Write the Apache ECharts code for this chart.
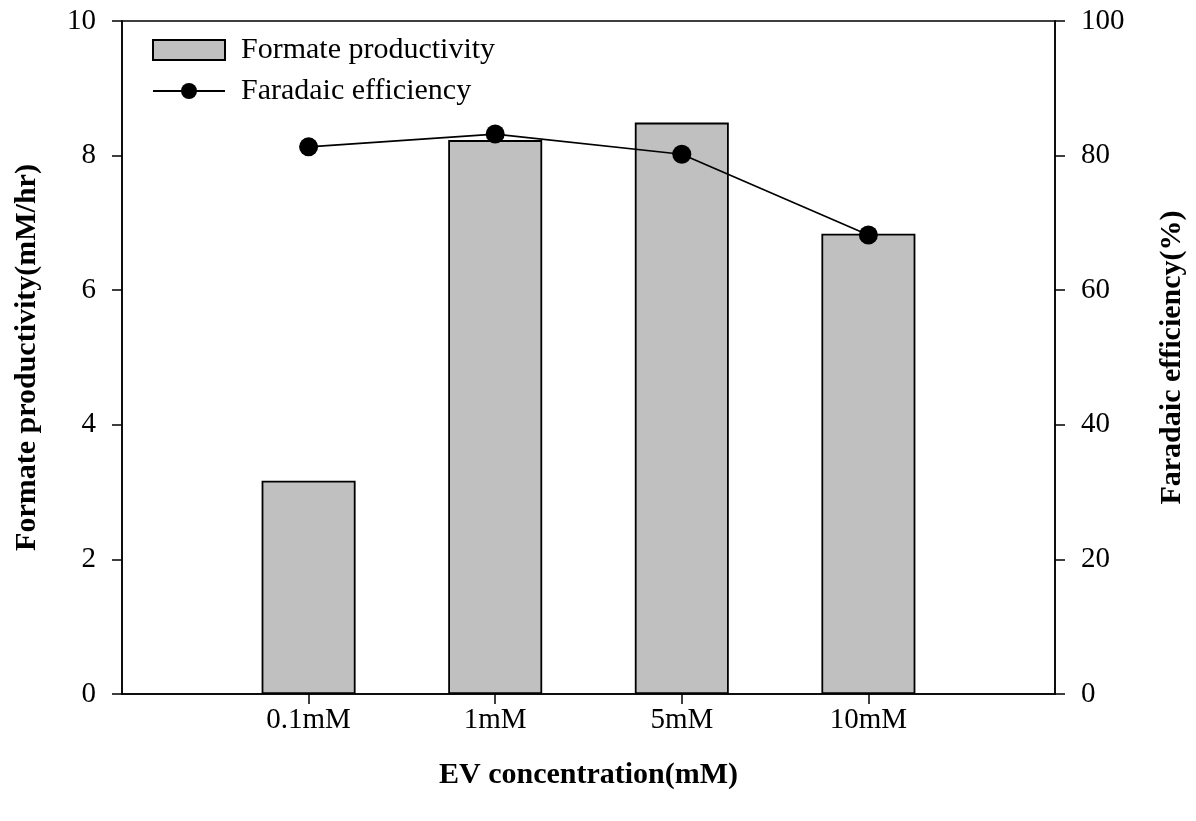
<!DOCTYPE html>
<html>
<head>
<meta charset="utf-8">
<script src="https://cdn.jsdelivr.net/npm/echarts@6/dist/echarts.min.js"></script>
<style>
  html, body { margin: 0; padding: 0; background: #fff; }
  #chart { width: 1196px; height: 821px; }
</style>
</head>
<body>
<div id="chart"></div>
<script>
  // EV concentration categories (blank slots pad both ends of the axis)
  var categories = ['0.1mM', '1mM', '5mM', '10mM'];
  var productivity = [3.17, 8.23, 8.49, 6.84];   // mM/hr
  var efficiency = [81.3, 83.2, 80.2, 68.2];     // %
  var leftTicks = [0, 2, 4, 6, 8, 10];
  var rightTicks = [0, 20, 40, 60, 80, 100];

  var font = 'Liberation Serif';
  function pad(arr, blank) { return [blank].concat(arr, [blank]); }

  var chart = echarts.init(document.getElementById('chart'));
  chart.setOption({
    backgroundColor: '#fff',
    animation: false,
    grid: {
      left: 122, right: 141, top: 21, bottom: 127,
      containLabel: false, outerBoundsMode: 'none',
      show: true, borderColor: '#000', borderWidth: 1.5
    },
    legend: {
      orient: 'vertical',
      left: 152, top: 35, padding: 0,
      itemWidth: 72, itemHeight: 20, itemGap: 11,
      textStyle: { fontFamily: font, fontSize: 30, color: '#000', lineHeight: 30, padding: [0, 0, 0, 11] },
      data: [
        { name: 'Formate productivity', icon: 'rect' },
        { name: 'Faradaic efficiency' }
      ]
    },
    xAxis: {
      type: 'category',
      data: pad(categories, ''),
      boundaryGap: false,
      name: 'EV concentration(mM)',
      nameLocation: 'middle',
      nameGap: 66,
      nameTextStyle: { fontFamily: font, fontSize: 30, fontWeight: 'bold', color: '#000' },
      axisLine: { lineStyle: { color: '#000', width: 1.5 } },
      axisTick: {
        length: 10, lineStyle: { color: '#000', width: 1.5 },
        interval: function (idx, val) { return val !== ''; }
      },
      axisLabel: { fontFamily: font, fontSize: 29, color: '#000', margin: 12, interval: 0 },
      splitLine: { show: false }
    },
    yAxis: [
      {
        type: 'value', min: leftTicks[0], max: leftTicks[leftTicks.length - 1], interval: 2,
        name: 'Formate productivity(mM/hr)',
        nameLocation: 'middle', nameGap: 80, nameRotate: 90,
        nameTextStyle: { fontFamily: font, fontSize: 30, fontWeight: 'bold', color: '#000' },
        axisLine: { show: true, lineStyle: { color: '#000', width: 1.5 } },
        axisTick: { show: true, length: 10, lineStyle: { color: '#000', width: 1.5 } },
        axisLabel: { fontFamily: font, fontSize: 29, color: '#000', margin: 26 },
        splitLine: { show: false }
      },
      {
        type: 'value', min: rightTicks[0], max: rightTicks[rightTicks.length - 1], interval: 20,
        position: 'right',
        name: 'Faradaic efficiency(%)',
        nameLocation: 'middle', nameGap: 102, nameRotate: 90,
        nameTextStyle: { fontFamily: font, fontSize: 30, fontWeight: 'bold', color: '#000' },
        axisLine: { show: true, lineStyle: { color: '#000', width: 1.5 } },
        axisTick: { show: true, length: 10, lineStyle: { color: '#000', width: 1.5 } },
        axisLabel: { fontFamily: font, fontSize: 29, color: '#000', margin: 26 },
        splitLine: { show: false }
      }
    ],
    series: [
      {
        name: 'Formate productivity',
        type: 'bar',
        yAxisIndex: 0,
        barWidth: 94,
        data: pad(productivity, '-'),
        itemStyle: { color: '#c0c0c0', borderColor: '#000', borderWidth: 1.8 }
      },
      {
        name: 'Faradaic efficiency',
        type: 'line',
        yAxisIndex: 1,
        data: pad(efficiency, '-'),
        symbol: 'circle',
        symbolSize: 19,
        lineStyle: { color: '#000', width: 1.7 },
        itemStyle: { color: '#000' }
      }
    ]
  });
</script>
</body>
</html>
